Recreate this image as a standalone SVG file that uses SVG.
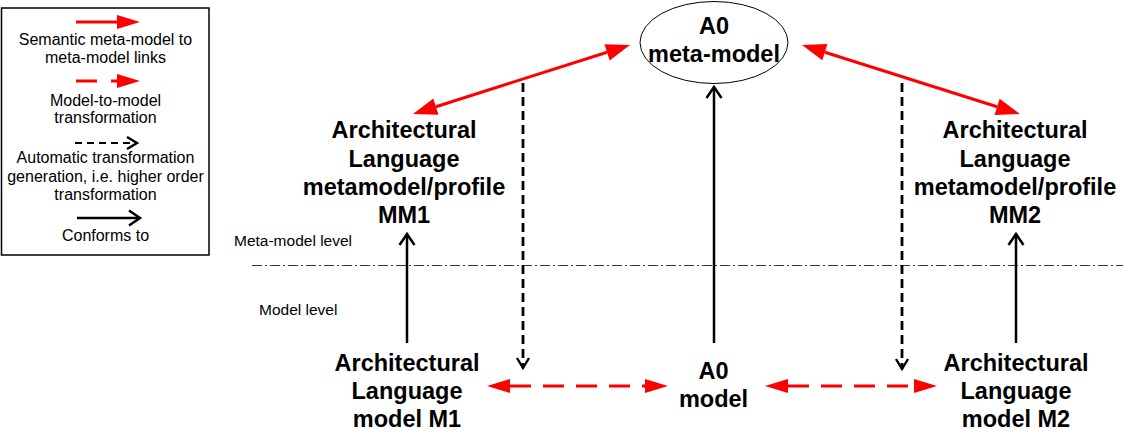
<svg xmlns="http://www.w3.org/2000/svg" width="1123" height="434" viewBox="0 0 1123 434">
  <style>
    .lg { font-family: "Liberation Sans", Arial, sans-serif; font-size: 16px; fill: #000; text-anchor: middle; }
    .lvl { font-family: "Liberation Sans", Arial, sans-serif; font-size: 15.5px; fill: #000; }
    .nd { font-family: "Liberation Sans", Arial, sans-serif; font-size: 23.5px; font-weight: bold; fill: #000; text-anchor: middle; }
    .red { stroke: #ff0000; stroke-width: 3; fill: none; }
    .reddash { stroke: #ff0000; stroke-width: 3; fill: none; stroke-dasharray: 21 12; }
    .blk { stroke: #000; stroke-width: 2.5; fill: none; }
    .blkdash { stroke: #000; stroke-width: 2.8; fill: none; stroke-dasharray: 9 5; }
  </style>
  <defs>
    <marker id="redHead" markerUnits="userSpaceOnUse" markerWidth="24" markerHeight="18" refX="0" refY="8.5" orient="auto-start-reverse" overflow="visible">
      <path d="M0,0 L24,8.5 L0,17 z" fill="#ff0000"/>
    </marker>
    <marker id="redHeadS" markerUnits="userSpaceOnUse" markerWidth="24" markerHeight="16" refX="0" refY="7" orient="auto-start-reverse" overflow="visible">
      <path d="M0,0 L23,7 L0,14 z" fill="#ff0000"/>
    </marker>
    <marker id="openHead" markerUnits="userSpaceOnUse" markerWidth="14" markerHeight="18" refX="0" refY="0" orient="auto" overflow="visible">
      <path d="M-11,-7.5 L0,0 L-11,7.5" fill="none" stroke="#000" stroke-width="2.5"/>
    </marker>
    <marker id="openHeadS" markerUnits="userSpaceOnUse" markerWidth="14" markerHeight="14" refX="0" refY="0" orient="auto" overflow="visible">
      <path d="M-10,-6 L0,0 L-10,6" fill="none" stroke="#000" stroke-width="2.4"/>
    </marker>
  </defs>

  <rect width="1123" height="434" fill="#ffffff"/>

  <!-- Legend -->
  <g id="legend">
    <rect x="1.5" y="8" width="207.5" height="247" fill="#fff" stroke="#000" stroke-width="1.5"/>
    <line x1="76" y1="22" x2="117" y2="22" class="red" marker-end="url(#redHeadS)"/>
    <text class="lg" x="105.5" y="45">Semantic meta-model to</text>
    <text class="lg" x="105.5" y="63">meta-model links</text>
    <line x1="76" y1="81" x2="117" y2="81" stroke="#ff0000" stroke-width="3" stroke-dasharray="21 14" marker-end="url(#redHeadS)"/>
    <text class="lg" x="105.5" y="106">Model-to-model</text>
    <text class="lg" x="105.5" y="123">transformation</text>
    <line x1="75" y1="143" x2="137" y2="143" stroke="#000" stroke-width="2" stroke-dasharray="7 5" marker-end="url(#openHeadS)"/>
    <text class="lg" x="105.5" y="163">Automatic transformation</text>
    <text class="lg" x="105.5" y="182">generation, i.e. higher order</text>
    <text class="lg" x="105.5" y="200">transformation</text>
    <line x1="77" y1="218" x2="140" y2="218" class="blk" marker-end="url(#openHead)"/>
    <text class="lg" x="105.5" y="241">Conforms to</text>
  </g>

  <!-- Level separator -->
  <g id="levels">
    <line x1="252" y1="265.5" x2="1123" y2="265.5" stroke="#333" stroke-width="1" stroke-dasharray="10 3 2 3"/>
    <text class="lvl" x="234" y="246">Meta-model level</text>
    <text class="lvl" x="259" y="315">Model level</text>
  </g>

  <!-- Nodes -->
  <g id="a0-metamodel">
    <ellipse cx="714" cy="42.5" rx="74" ry="41" fill="#fff" stroke="#000" stroke-width="1"/>
    <text class="nd" x="714" y="34">A0</text>
    <text class="nd" x="714" y="62">meta-model</text>
  </g>
  <g id="mm1">
    <text class="nd" x="404" y="138">Architectural</text>
    <text class="nd" x="404" y="166.5">Language</text>
    <text class="nd" x="404" y="195">metamodel/profile</text>
    <text class="nd" x="404" y="223">MM1</text>
  </g>
  <g id="mm2">
    <text class="nd" x="1015" y="138">Architectural</text>
    <text class="nd" x="1015" y="166.5">Language</text>
    <text class="nd" x="1015" y="195">metamodel/profile</text>
    <text class="nd" x="1015" y="223">MM2</text>
  </g>
  <g id="m1">
    <text class="nd" x="407" y="370.5">Architectural</text>
    <text class="nd" x="407" y="398.5">Language</text>
    <text class="nd" x="407" y="426.5">model M1</text>
  </g>
  <g id="a0-model">
    <text class="nd" x="713.5" y="379">A0</text>
    <text class="nd" x="713.5" y="407">model</text>
  </g>
  <g id="m2">
    <text class="nd" x="1016" y="370.5">Architectural</text>
    <text class="nd" x="1016" y="398.5">Language</text>
    <text class="nd" x="1016" y="426.5">model M2</text>
  </g>

  <!-- Connectors -->
  <g id="connectors">
    <line x1="435.9" y1="106.7" x2="607.1" y2="52.3" class="red" marker-start="url(#redHead)" marker-end="url(#redHead)"/>
    <line x1="824.9" y1="52.2" x2="997.1" y2="106.8" class="red" marker-start="url(#redHead)" marker-end="url(#redHead)"/>
    <line x1="510" y1="386" x2="645" y2="386" class="reddash" marker-start="url(#redHeadS)" marker-end="url(#redHeadS)"/>
    <line x1="788" y1="386" x2="914" y2="386" class="reddash" marker-start="url(#redHeadS)" marker-end="url(#redHeadS)"/>
    <line x1="714" y1="343" x2="714" y2="87" class="blk" marker-end="url(#openHead)"/>
    <line x1="407" y1="343" x2="407" y2="234" class="blk" marker-end="url(#openHead)"/>
    <line x1="1016" y1="343" x2="1016" y2="234" class="blk" marker-end="url(#openHead)"/>
    <line x1="523" y1="83" x2="523" y2="368" class="blkdash" marker-end="url(#openHeadS)"/>
    <line x1="902" y1="83" x2="902" y2="369" class="blkdash" marker-end="url(#openHeadS)"/>
  </g>
</svg>
